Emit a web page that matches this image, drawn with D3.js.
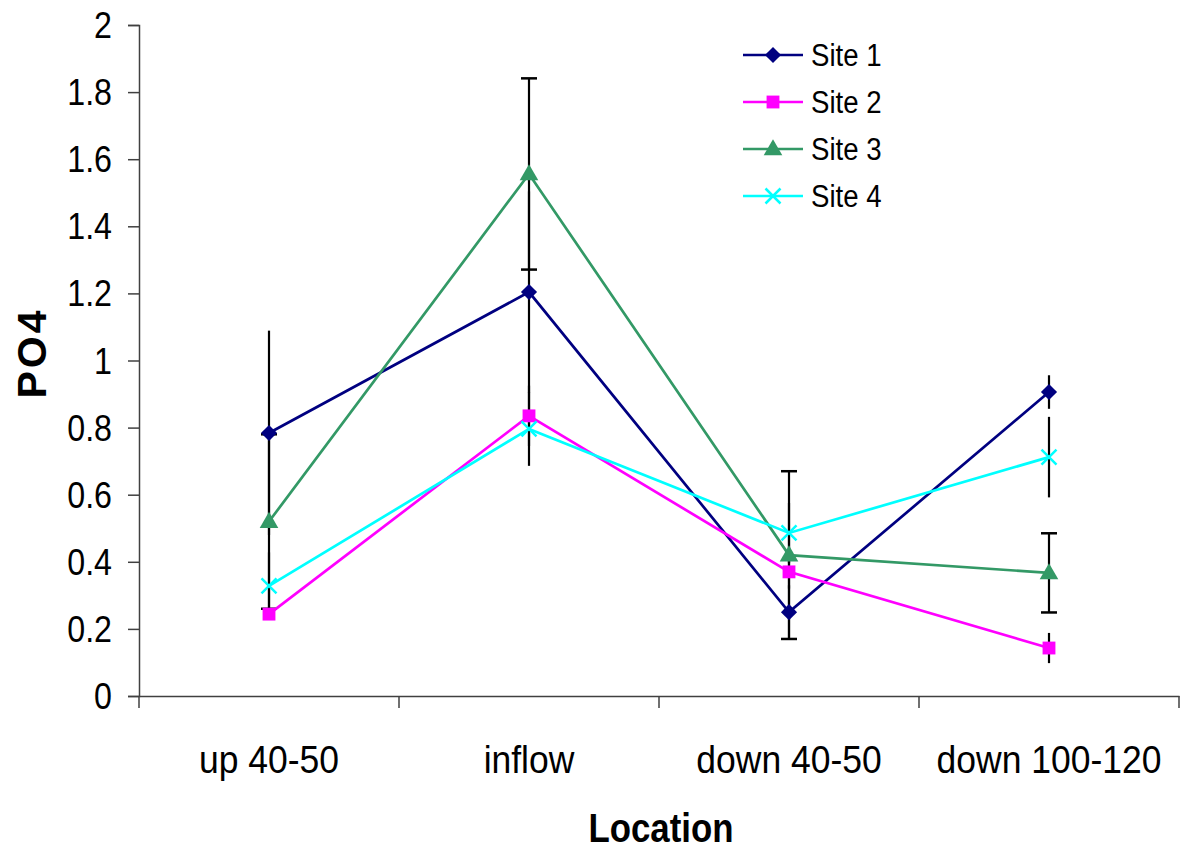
<!DOCTYPE html>
<html><head><meta charset="utf-8">
<script src="https://cdn.jsdelivr.net/npm/d3@7"></script>
<style>html,body{margin:0;padding:0;background:#fff;}svg{display:block;}</style>
</head><body>
<script>
const categories = ["up 40-50", "inflow", "down 40-50", "down 100-120"];
const seriesNames = ["Site 1", "Site 2", "Site 3", "Site 4"];
const site1 = [0.784, 1.204, 0.25, 0.906];
const site2 = [0.244, 0.835, 0.37, 0.143];
const site3 = [0.52, 1.556, 0.42, 0.367];
const site4 = [0.328, 0.796, 0.486, 0.712];
const err1 = [0.305, 0.30, 0.08, 0.05];
const err2 = [0.01, 0.09, 0.05, 0.045];
const err3 = [0.26, 0.285, 0.25, 0.118];
const err4 = [0.10, 0.11, 0.09, 0.12];
const yTicks = [0, 0.2, 0.4, 0.6, 0.8, 1, 1.2, 1.4, 1.6, 1.8, 2];
const xTitle = "Location";
const yTitle = "PO4";

const colors = ["#000080", "#FF00FF", "#339966", "#00FFFF"];
const symbols = ["diamond", "square", "triangle", "x"];
const capped = [false, false, true, false];
const values = [site1, site2, site3, site4];
const errors = [err1, err2, err3, err4];

const W = 1187, H = 852;
const m = {left: 139, right: 1179, top: 25, bottom: 696};
const SX = 0.88;
const FONT = "'Liberation Sans', Arial, sans-serif";

const svg = d3.select("body").append("svg").attr("width", W).attr("height", H);

const x = d3.scaleBand().domain(categories).range([m.left, m.right]).padding(0);
const y = d3.scaleLinear().domain([0, 2]).range([m.bottom, m.top]);
const cx = c => x(c) + x.bandwidth() / 2;

// axes
const yAxis = svg.append("g").attr("transform", `translate(${m.left},0)`)
  .call(d3.axisLeft(y).tickValues(yTicks).tickSize(11).tickFormat(d3.format("")));
yAxis.selectAll("text").remove();
const xAxis = svg.append("g").attr("transform", `translate(0,${m.bottom})`)
  .call(d3.axisBottom(x).tickSize(0).tickFormat(""));
xAxis.selectAll(".tick").remove();
const bounds = categories.map(c => x(c)).concat([x(categories[categories.length - 1]) + x.bandwidth()]);
xAxis.selectAll("line.bt").data(bounds).enter().append("line").attr("class", "bt")
  .attr("x1", d => d).attr("x2", d => d).attr("y1", 0).attr("y2", 12);
svg.selectAll(".domain, .tick line, line.bt").attr("stroke", "#404040").attr("stroke-width", 1.5);

function ctext(g, txt, px, py, size, anchor, weight, sx) {
  return g.append("text").attr("transform", `translate(${px},${py}) scale(${sx},1)`)
    .attr("text-anchor", anchor).attr("font-family", FONT).attr("font-size", size)
    .attr("font-weight", weight || "normal").attr("fill", "#000").text(txt);
}

yTicks.forEach(t => ctext(svg, d3.format("")(t), 112, y(t) + 13, 37, "end", "normal", 0.87));
categories.forEach(c => ctext(svg, c, cx(c), 773, 39, "middle", "normal", 0.91));
ctext(svg, xTitle, 661, 842, 41, "middle", "bold", 0.85);
svg.append("text").attr("transform", `translate(46,353) rotate(-90)`)
  .attr("text-anchor", "middle").attr("font-family", FONT).attr("font-size", 41)
  .attr("font-weight", "bold").attr("letter-spacing", 3).text(yTitle);

// error bars
const eb = svg.append("g");
values.forEach((vals, si) => {
  vals.forEach((v, i) => {
    const px = cx(categories[i]), e = errors[si][i];
    eb.append("line").attr("x1", px).attr("x2", px).attr("y1", y(v + e)).attr("y2", y(v - e))
      .attr("stroke", "#000").attr("stroke-width", 2.2);
    if (capped[si]) {
      [v + e, v - e].forEach(yy => eb.append("line").attr("x1", px - 8).attr("x2", px + 8)
        .attr("y1", y(yy)).attr("y2", y(yy)).attr("stroke", "#000").attr("stroke-width", 2.5));
    }
  });
});

const line = d3.line().x((d, i) => cx(categories[i])).y(d => y(d));
values.forEach((vals, si) => {
  svg.append("path").datum(vals).attr("d", line).attr("fill", "none")
    .attr("stroke", colors[si]).attr("stroke-width", 2.7);
});

function marker(g, type, px, py, col) {
  if (type === "diamond") {
    g.append("path").attr("d", d3.symbol().type(d3.symbolSquare).size(130)()).attr("fill", col)
      .attr("transform", `translate(${px},${py}) rotate(45)`);
  } else if (type === "square") {
    g.append("path").attr("d", d3.symbol().type(d3.symbolSquare).size(165)()).attr("fill", col)
      .attr("transform", `translate(${px},${py})`);
  } else if (type === "triangle") {
    g.append("path").attr("d", d3.symbol().type(d3.symbolTriangle).size(150)()).attr("fill", col)
      .attr("transform", `translate(${px},${py + 1})`);
  } else {
    const r = 7.5;
    g.append("path").attr("d", `M${-r},${-r}L${r},${r}M${-r},${r}L${r},${-r}`).attr("stroke", col)
      .attr("stroke-width", 2.5).attr("fill", "none").attr("transform", `translate(${px},${py})`);
  }
}
values.forEach((vals, si) => {
  vals.forEach((v, i) => marker(svg, symbols[si], cx(categories[i]), y(v), colors[si]));
});

const lg = svg.append("g");
seriesNames.forEach((n, i) => {
  const ly = 55 + i * 47;
  lg.append("line").attr("x1", 743).attr("x2", 803).attr("y1", ly).attr("y2", ly)
    .attr("stroke", colors[i]).attr("stroke-width", 2.7);
  marker(lg, symbols[i], 773, ly, colors[i]);
  ctext(lg, n, 811, ly + 11, 31, "start", "normal", 0.89);
});
</script>
</body></html>
